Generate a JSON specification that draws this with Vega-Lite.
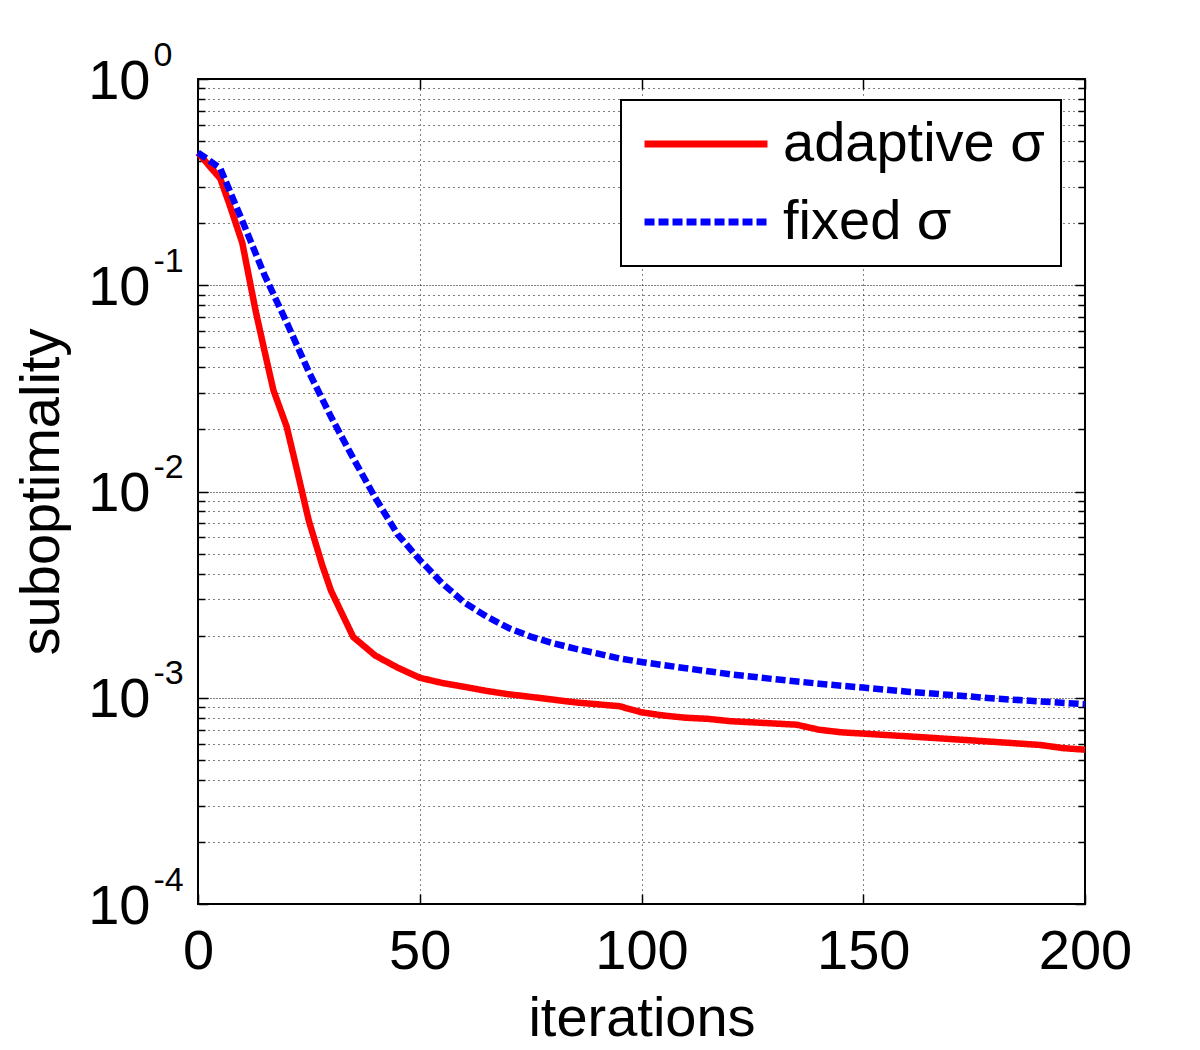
{
  "$schema": "https://vega.github.io/schema/vega-lite/v6.json",
  "width": 887,
  "height": 825,
  "autosize": "none",
  "padding": {"left": 198, "top": 79, "right": 115, "bottom": 146},
  "background": "white",
  "config": {
    "font": "Liberation Sans",
    "view": {"stroke": "black", "strokeWidth": 2},
    "axis": {
      "domain": false,
      "tickColor": "black",
      "tickWidth": 1.5,
      "labelColor": "black",
      "titleColor": "black",
      "gridColor": "black",
      "gridOpacity": 1,
      "gridWidth": 1,
      "labelFont": "Liberation Sans",
      "titleFont": "Liberation Sans",
      "labelFontSize": 56,
      "titleFontSize": 56,
      "titleFontWeight": "normal",
      "labelOverlap": false,
      "labelFlush": false
    },
    "legend": {
      "symbolType": "M-4,0H4",
      "symbolSize": 945,
      "symbolStrokeWidth": 7,
      "labelFont": "Liberation Sans",
      "labelFontSize": 56,
      "labelColor": "black",
      "labelLimit": 0,
      "labelOffset": 49,
      "padding": 16,
      "symbolOffset": 41,
      "rowPadding": 22,
      "strokeColor": "black",
      "fillColor": "white",
      "strokeWidth": 2
    }
  },
  "data": {
    "values": [
      {"it": 0, "v": 0.438, "s": "adaptive σ"},
      {"it": 5, "v": 0.33, "s": "adaptive σ"},
      {"it": 7, "v": 0.25, "s": "adaptive σ"},
      {"it": 10, "v": 0.16, "s": "adaptive σ"},
      {"it": 13, "v": 0.075, "s": "adaptive σ"},
      {"it": 15, "v": 0.048, "s": "adaptive σ"},
      {"it": 17, "v": 0.031, "s": "adaptive σ"},
      {"it": 20, "v": 0.0206, "s": "adaptive σ"},
      {"it": 22, "v": 0.0136, "s": "adaptive σ"},
      {"it": 25, "v": 0.0072, "s": "adaptive σ"},
      {"it": 28, "v": 0.0044, "s": "adaptive σ"},
      {"it": 30, "v": 0.0033, "s": "adaptive σ"},
      {"it": 35, "v": 0.00197, "s": "adaptive σ"},
      {"it": 40, "v": 0.0016, "s": "adaptive σ"},
      {"it": 45, "v": 0.0014, "s": "adaptive σ"},
      {"it": 50, "v": 0.00125, "s": "adaptive σ"},
      {"it": 55, "v": 0.00118, "s": "adaptive σ"},
      {"it": 60, "v": 0.00113, "s": "adaptive σ"},
      {"it": 65, "v": 0.00108, "s": "adaptive σ"},
      {"it": 70, "v": 0.00104, "s": "adaptive σ"},
      {"it": 75, "v": 0.00101, "s": "adaptive σ"},
      {"it": 80, "v": 0.00098, "s": "adaptive σ"},
      {"it": 85, "v": 0.00095, "s": "adaptive σ"},
      {"it": 90, "v": 0.00093, "s": "adaptive σ"},
      {"it": 95, "v": 0.00091, "s": "adaptive σ"},
      {"it": 100, "v": 0.00085, "s": "adaptive σ"},
      {"it": 105, "v": 0.00082, "s": "adaptive σ"},
      {"it": 110, "v": 0.0008, "s": "adaptive σ"},
      {"it": 115, "v": 0.00079, "s": "adaptive σ"},
      {"it": 120, "v": 0.00077, "s": "adaptive σ"},
      {"it": 125, "v": 0.00076, "s": "adaptive σ"},
      {"it": 130, "v": 0.00075, "s": "adaptive σ"},
      {"it": 135, "v": 0.00074, "s": "adaptive σ"},
      {"it": 140, "v": 0.0007, "s": "adaptive σ"},
      {"it": 145, "v": 0.00068, "s": "adaptive σ"},
      {"it": 150, "v": 0.00067, "s": "adaptive σ"},
      {"it": 155, "v": 0.00066, "s": "adaptive σ"},
      {"it": 160, "v": 0.00065, "s": "adaptive σ"},
      {"it": 165, "v": 0.00064, "s": "adaptive σ"},
      {"it": 170, "v": 0.00063, "s": "adaptive σ"},
      {"it": 175, "v": 0.00062, "s": "adaptive σ"},
      {"it": 180, "v": 0.00061, "s": "adaptive σ"},
      {"it": 185, "v": 0.0006, "s": "adaptive σ"},
      {"it": 190, "v": 0.00059, "s": "adaptive σ"},
      {"it": 195, "v": 0.00057, "s": "adaptive σ"},
      {"it": 200, "v": 0.00056, "s": "adaptive σ"},
      {"it": 0, "v": 0.44, "s": "fixed σ"},
      {"it": 5, "v": 0.37, "s": "fixed σ"},
      {"it": 10, "v": 0.205, "s": "fixed σ"},
      {"it": 15, "v": 0.112, "s": "fixed σ"},
      {"it": 20, "v": 0.066, "s": "fixed σ"},
      {"it": 25, "v": 0.038, "s": "fixed σ"},
      {"it": 30, "v": 0.023, "s": "fixed σ"},
      {"it": 35, "v": 0.0145, "s": "fixed σ"},
      {"it": 40, "v": 0.0093, "s": "fixed σ"},
      {"it": 45, "v": 0.0062, "s": "fixed σ"},
      {"it": 50, "v": 0.00466, "s": "fixed σ"},
      {"it": 55, "v": 0.0036, "s": "fixed σ"},
      {"it": 60, "v": 0.0029, "s": "fixed σ"},
      {"it": 65, "v": 0.00248, "s": "fixed σ"},
      {"it": 70, "v": 0.00218, "s": "fixed σ"},
      {"it": 75, "v": 0.00198, "s": "fixed σ"},
      {"it": 80, "v": 0.00184, "s": "fixed σ"},
      {"it": 85, "v": 0.00173, "s": "fixed σ"},
      {"it": 90, "v": 0.00164, "s": "fixed σ"},
      {"it": 95, "v": 0.00155, "s": "fixed σ"},
      {"it": 100, "v": 0.00149, "s": "fixed σ"},
      {"it": 110, "v": 0.00139, "s": "fixed σ"},
      {"it": 120, "v": 0.0013, "s": "fixed σ"},
      {"it": 130, "v": 0.00123, "s": "fixed σ"},
      {"it": 140, "v": 0.00117, "s": "fixed σ"},
      {"it": 150, "v": 0.00112, "s": "fixed σ"},
      {"it": 160, "v": 0.00107, "s": "fixed σ"},
      {"it": 170, "v": 0.00103, "s": "fixed σ"},
      {"it": 180, "v": 0.00099, "s": "fixed σ"},
      {"it": 190, "v": 0.00096, "s": "fixed σ"},
      {"it": 200, "v": 0.00093, "s": "fixed σ"}
    ]
  },
  "layer": [
    {
      "mark": {"type": "line", "strokeWidth": 6.5, "strokeCap": "butt", "strokeJoin": "round"},
      "encoding": {
        "x": {
          "field": "it", "type": "quantitative",
          "scale": {"domain": [0, 200], "nice": false},
          "axis": {
            "orient": "bottom", "values": [0, 50, 100, 150, 200],
            "grid": true, "gridDash": [1, 4],
            "tickSize": -10, "labelPadding": 30, "labelBaseline": "top",
            "title": "iterations", "titleX": 443.5, "titleY": 131, "titleBaseline": "alphabetic"
          }
        },
        "y": {
          "field": "v", "type": "quantitative",
          "scale": {"type": "log", "domain": [0.0001, 1], "nice": false},
          "axis": {
            "orient": "left",
            "values": [0.0001, 0.0002, 0.0003, 0.0004, 0.0005, 0.0006, 0.0007, 0.0008, 0.0009,
                       0.001, 0.002, 0.003, 0.004, 0.005, 0.006, 0.007, 0.008, 0.009,
                       0.01, 0.02, 0.03, 0.04, 0.05, 0.06, 0.07, 0.08, 0.09,
                       0.1, 0.2, 0.3, 0.4, 0.5, 0.6, 0.7, 0.8, 0.9, 1],
            "grid": true,
            "gridDash": {"condition": {"test": "indexof([0.0001,0.001,0.01,0.1,1], datum.value) >= 0", "value": [1, 2]}, "value": [1, 4]},
            "tickSize": {"condition": {"test": "indexof([0.0001,0.001,0.01,0.1,1], datum.value) >= 0", "value": -10}, "value": -7},
            "labels": false,
            "title": "suboptimality", "titleX": -140, "titleY": 412.5, "titleBaseline": "alphabetic", "titleAngle": 270
          }
        },
        "color": {
          "field": "s", "type": "nominal",
          "scale": {"domain": ["adaptive σ", "fixed σ"], "range": ["#ff0000", "#0000ff"]},
          "legend": {"title": null, "orient": "none", "legendX": 423, "legendY": 21}
        },
        "strokeDash": {
          "field": "s", "type": "nominal",
          "scale": {"domain": ["adaptive σ", "fixed σ"], "range": [[1, 0], [10, 4]]},
          "legend": {"title": null, "orient": "none", "legendX": 423, "legendY": 21}
        }
      }
    },
    {
      "mark": {"type": "point", "opacity": 0},
      "encoding": {
        "x": {
          "field": "it", "type": "quantitative",
          "axis": {"orient": "top", "values": [0, 50, 100, 150, 200], "grid": false, "labels": false, "tickSize": -10, "title": null}
        },
        "y": {
          "field": "v", "type": "quantitative",
          "axis": {"orient": "left", "values": [0.0001, 0.001, 0.01, 0.1, 1], "grid": false, "ticks": false,
                   "labelExpr": "'10'", "labelAlign": "right", "labelBaseline": "middle", "labelPadding": 48, "labelOffset": 2, "title": null}
        }
      }
    },
    {
      "mark": {"type": "point", "opacity": 0},
      "encoding": {
        "x": {"field": "it", "type": "quantitative", "axis": null},
        "y": {
          "field": "v", "type": "quantitative",
          "axis": {"orient": "left", "values": [0.0001, 0.001, 0.01, 0.1, 1], "grid": false, "ticks": false,
                   "labelExpr": "'' + round(log(datum.value)/LN10)", "labelFontSize": 34, "labelAlign": "left", "labelBaseline": "middle", "labelPadding": 45, "labelOffset": -24, "title": null}
        }
      }
    },
    {
      "mark": {"type": "point", "opacity": 0},
      "encoding": {
        "x": {"field": "it", "type": "quantitative", "axis": null},
        "y": {
          "field": "v", "type": "quantitative",
          "axis": {
            "orient": "right",
            "values": [0.0001, 0.0002, 0.0003, 0.0004, 0.0005, 0.0006, 0.0007, 0.0008, 0.0009,
                       0.001, 0.002, 0.003, 0.004, 0.005, 0.006, 0.007, 0.008, 0.009,
                       0.01, 0.02, 0.03, 0.04, 0.05, 0.06, 0.07, 0.08, 0.09,
                       0.1, 0.2, 0.3, 0.4, 0.5, 0.6, 0.7, 0.8, 0.9, 1],
            "grid": false, "labels": false,
            "tickSize": {"condition": {"test": "indexof([0.0001,0.001,0.01,0.1,1], datum.value) >= 0", "value": -10}, "value": -7},
            "title": null
          }
        }
      }
    }
  ],
  "resolve": {"axis": {"x": "independent", "y": "independent"}}
}
